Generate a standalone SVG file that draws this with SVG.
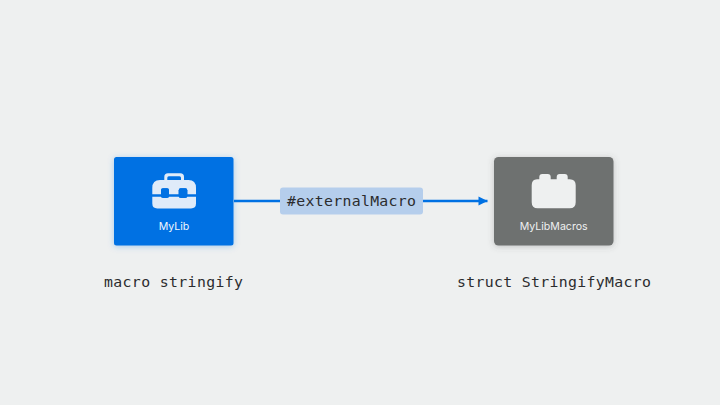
<svg xmlns="http://www.w3.org/2000/svg" width="720" height="405" viewBox="0 0 720 405">
<defs>
<filter id="glowB" x="-20%" y="-20%" width="140%" height="140%"><feDropShadow dx="0" dy="1" stdDeviation="3" flood-color="#0071e3" flood-opacity="0.3"/></filter>
<filter id="glowG" x="-20%" y="-20%" width="140%" height="140%"><feDropShadow dx="0" dy="1" stdDeviation="3" flood-color="#555" flood-opacity="0.3"/></filter>
<marker id="arrow" markerUnits="userSpaceOnUse" markerWidth="11" markerHeight="11" refX="9.500" refY="5.500" orient="auto"><path d="M0.500 1 L9.500 5.500 L0.500 10 Z" fill="#0071e3"/></marker>
</defs>
<style>
.code{font-family:"DejaVu Sans Mono","Liberation Mono",monospace;font-size:14.8px;fill:#2b2c2e}
.name{font-family:Inter,"Liberation Sans",sans-serif;font-size:10.600px;font-weight:400;text-anchor:middle}
.box{fill:#dfebf9}
</style>
<rect width="720" height="405" fill="#eef0f0"/>
<g id="connectors">
<path d="M234 201H487.500" fill="none" stroke="#0071e3" stroke-width="2.400" marker-end="url(#arrow)"/>
</g>
<g id="node-mylib">
<rect x="114" y="157" width="119.500" height="88.500" rx="2.500" fill="#0071e3" filter="url(#glowB)"/>
<path class="box" d="M164.300 181V177Q164.300 173.300 168 173.300H180.300Q184 173.300 184 177V181H181V177.800Q181 176.300 179.500 176.300H168.800Q167.300 176.300 167.300 177.800V181Z"/>
<path class="box" d="M152.300 194.300V188Q152.300 180 160 180H188.500Q196 180 196 188V194.300H187.300V190.300Q187.300 188.300 185.300 188.300H180.700Q178.700 188.300 178.700 190.300V194.300H169V190.300Q169 188.300 167 188.300H163Q161 188.300 161 190.300V194.300Z"/>
<path class="box" d="M152.300 196.700H161Q161.200 198 163 198H167Q168.800 198 169 196.700H178.700Q178.900 198 180.700 198H185.300Q187.100 198 187.300 196.700H196V203.500Q196 208.400 191 208.400H157.300Q152.300 208.400 152.300 203.500Z"/>
<rect x="161" y="188.300" width="8" height="8" rx="2" fill="#0071e3"/>
<rect x="178.700" y="188.300" width="8.600" height="8" rx="2" fill="#0071e3"/>
<text class="name" x="174" y="229.500" fill="#f2f7fd">MyLib</text>
</g>
<g id="node-mylibmacros">
<rect x="494" y="157" width="119.500" height="88.500" rx="4.500" fill="#6e7170" filter="url(#glowG)"/>
<path d="M537 179.300H539.300V177Q539.300 174 542.300 174H547.700Q550.700 174 550.700 177V179.300H556.700V177Q556.700 174 559.700 174H564.700Q567.700 174 567.700 177V179.300H569.700Q575.700 179.300 575.700 185.300V202.300Q575.700 208.300 569.700 208.300H537.700Q531.700 208.300 531.700 202.300V185.300Q531.700 179.300 537 179.300Z" fill="#eef0f0"/>
<text class="name" x="553.700" y="229.500" fill="#eef0f0">MyLibMacros</text>
</g>
<g id="label-externalmacro">
<rect x="280" y="187.500" width="143" height="27" rx="3" fill="#b5ceec"/>
<text class="code" x="287" y="206" textLength="129">#externalMacro</text>
</g>
<g id="caption-left"><text class="code" x="104" y="287" textLength="139">macro stringify</text></g>
<g id="caption-right"><text class="code" x="457" y="287" textLength="194">struct StringifyMacro</text></g>
</svg>
